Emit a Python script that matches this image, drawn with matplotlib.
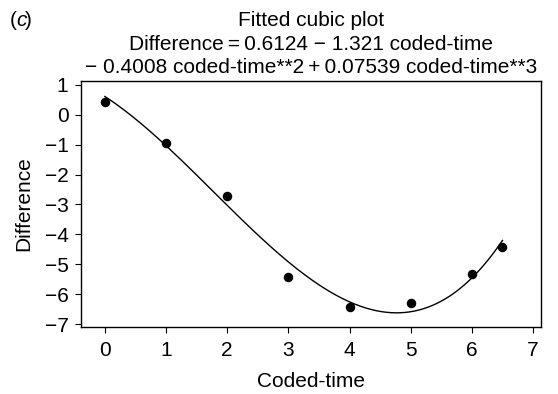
import numpy as np
import matplotlib.pyplot as plt

plt.rcParams['font.family'] = ['Liberation Sans', 'DejaVu Sans']

# Observed data
coded_time = [0, 1, 2, 3, 4, 5, 6, 6.5]
difference = [0.44, -0.94, -2.72, -5.42, -6.42, -6.31, -5.32, -4.44]

# Fitted cubic coefficients (constant, x, x^2, x^3) from the title
coefs = [0.6124, -1.321, -0.4008, 0.07539]

x_ticks = [0, 1, 2, 3, 4, 5, 6, 7]
y_ticks = [1, 0, -1, -2, -3, -4, -5, -6, -7]

fs = 15
fig = plt.figure(figsize=(5.58, 3.94), dpi=100)
ax = fig.add_axes([81 / 558, 1 - 327 / 394, 460 / 558, 246 / 394])

xs = np.linspace(min(coded_time), max(coded_time), 200)
ys = np.polynomial.polynomial.polyval(xs, coefs)
ax.plot(xs, ys, color='black', lw=1.0)
ax.scatter(coded_time, difference, s=34, color='black', zorder=3)

ax.set_xlim(-0.39, 7.13)
ax.set_ylim(-7.1, 1.13)
ax.set_xticks(x_ticks)
ax.set_yticks(y_ticks)
ax.set_yticklabels([str(v).replace('-', '\u2212') for v in y_ticks])
ax.tick_params(direction='out', length=4, labelsize=fs, colors='black')
ax.tick_params(axis='y', pad=5)
ax.tick_params(axis='x', pad=6)
for s in ax.spines.values():
    s.set_linewidth(1.0)

ax.set_xlabel('Coded-time', fontsize=fs, labelpad=9)
ax.set_ylabel('Difference', fontsize=fs, labelpad=8)

cx = (81 + 541) / 2 / 558
fig.text(cx, 1 - 26 / 394, 'Fitted cubic plot', ha='center', va='baseline', fontsize=fs)
fig.text(cx, 1 - 50 / 394, 'Difference\u2009=\u20090.6124 \u2212 1.321 coded-time',
         ha='center', va='baseline', fontsize=fs)
fig.text(cx, 1 - 73 / 394, '\u2212 0.4008 coded-time**2\u2009+\u20090.07539 coded-time**3',
         ha='center', va='baseline', fontsize=fs)
fig.text(10 / 558, 1 - 26 / 394, '(', va='baseline', fontsize=fs)
fig.text(16 / 558, 1 - 26 / 394, 'c', va='baseline', fontsize=fs, style='italic')
fig.text(25 / 558, 1 - 26 / 394, ')', va='baseline', fontsize=fs)

fig.savefig('out.png', dpi=100)
